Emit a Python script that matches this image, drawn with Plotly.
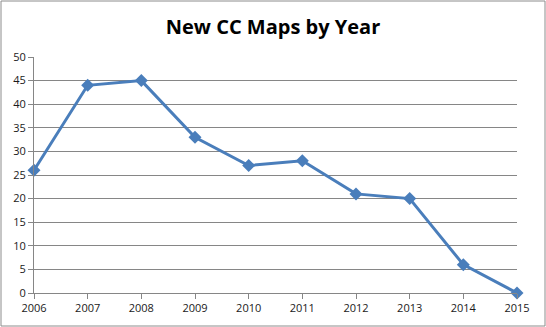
import plotly.graph_objects as go

years = ["2006", "2007", "2008", "2009", "2010", "2011", "2012", "2013", "2014", "2015"]
new_maps = [26, 44, 45, 33, 27, 28, 21, 20, 6, 0]
y_ticks = [0, 5, 10, 15, 20, 25, 30, 35, 40, 45, 50]

W, H = 546, 327
ML, MR, MT, MB = 34, 29, 57, 34
pw, ph = W - ML - MR, H - MT - MB

fig = go.Figure(go.Scatter(
    x=years, y=new_maps, mode="lines+markers",
    line=dict(color="#4A7EBB", width=3),
    marker=dict(symbol="diamond", size=10, color="#4A7EBB"),
    cliponaxis=False,
))

grid = "#868686"
fig.update_layout(
    width=W, height=H,
    margin=dict(l=ML, r=MR, t=MT, b=MB),
    paper_bgcolor="white", plot_bgcolor="white",
    showlegend=False,
    font=dict(family="Open Sans, Liberation Sans, sans-serif", size=11, color="#1a1a1a"),
    title=dict(text="<b>New CC Maps by Year</b>", x=0.5, xanchor="center",
               y=1 - 27 / H, yanchor="middle",
               font=dict(size=20, color="black")),
    xaxis=dict(type="category", range=[0, len(years) - 1], showgrid=False,
               showline=True, linecolor=grid, linewidth=1,
               ticks="outside", ticklen=5, tickcolor=grid, zeroline=False),
    yaxis=dict(range=[0, 50], tickvals=y_ticks, showgrid=True, gridcolor=grid,
               gridwidth=1, showline=True, linecolor=grid, linewidth=1,
               ticks="outside", ticklen=5, tickcolor=grid, zeroline=False),
    shapes=[dict(type="rect", xref="paper", yref="paper",
                 x0=-(ML - 1) / pw, x1=1 + (MR - 1) / pw,
                 y0=-(MB - 1) / ph, y1=1 + (MT - 1) / ph,
                 line=dict(color="#8c8c8c", width=1), layer="below")],
)

fig.write_html("out.html")
